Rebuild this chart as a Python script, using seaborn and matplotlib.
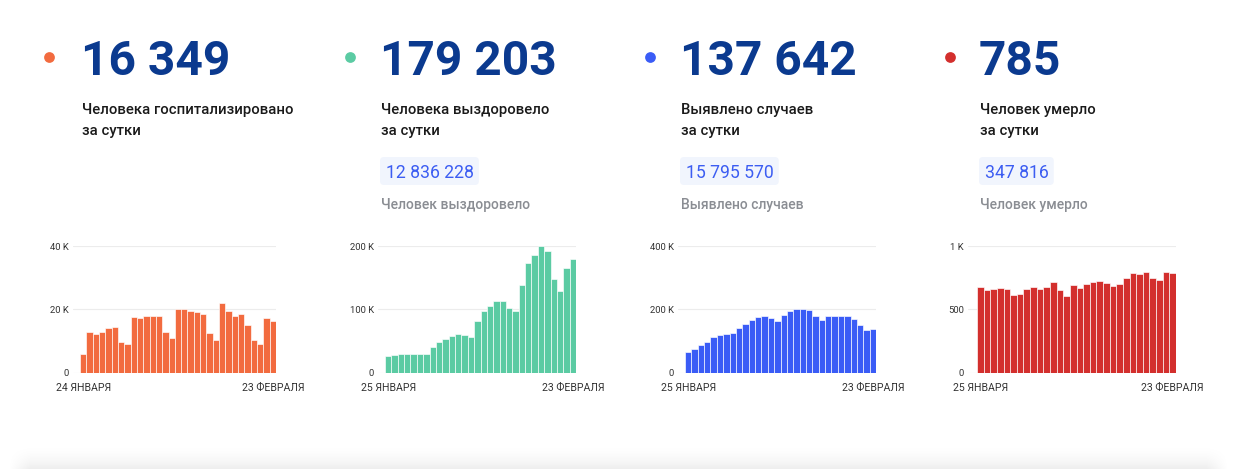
import numpy as np
import pandas as pd
import matplotlib
matplotlib.use("Agg")
import matplotlib.pyplot as plt
from matplotlib.patches import FancyBboxPatch
import seaborn as sns

# ---------------- data ----------------
hosp = [6.0, 12.8, 12.2, 12.8, 14.1, 14.6, 9.9, 9.2, 17.5, 17.2, 17.8, 17.8, 18.0,
        12.8, 10.9, 20.2, 20.2, 19.6, 19.3, 18.5, 12.7, 10.5, 21.9, 19.6, 18.1,
        18.6, 15.1, 10.5, 9.0, 17.4, 16.349]           # thousands
recovered = [27.4, 28.9, 30.5, 30.5, 30.5, 29.5, 30.5, 41, 49, 54, 59, 61, 60, 56,
             82, 98, 106, 113, 114, 102, 98, 139, 174, 186, 200, 192, 148, 129,
             165, 179.203]                              # thousands
cases = [67.7, 76, 88.5, 98, 112.5, 121, 124, 126, 141.7, 155, 168, 176, 179, 172,
         164.6, 182, 196, 203, 203, 197, 179, 166.7, 178, 180, 179, 178, 170, 151,
         135.4, 137.642]                                # thousands
deaths = [677, 654, 664, 672, 664, 615, 620, 659, 674, 664, 680, 714, 656, 607,
          695, 667, 698, 719, 727, 706, 682, 703, 745, 786, 781, 794, 745, 732,
          792, 785]

big_numbers = ["16 349", "179 203", "137 642", "785"]
labels_1 = ["Человека госпитализировано", "Человека выздоровело",
            "Выявлено случаев", "Человек умерло"]
labels_2 = ["за сутки", "за сутки", "за сутки", "за сутки"]
totals = [None, "12 836 228", "15 795 570", "347 816"]
total_labels = [None, "Человек выздоровело", "Выявлено случаев", "Человек умерло"]
start_dates = ["24 ЯНВАРЯ", "25 ЯНВАРЯ", "25 ЯНВАРЯ", "25 ЯНВАРЯ"]
end_dates = ["23 ФЕВРАЛЯ", "23 ФЕВРАЛЯ", "23 ФЕВРАЛЯ", "23 ФЕВРАЛЯ"]
y_ticks = [[0, 20, 40], [0, 100, 200], [0, 200, 400], [0, 500, 1000]]
y_ticklabels = [["0", "20 K", "40 K"], ["0", "100 K", "200 K"],
                ["0", "200 K", "400 K"], ["0", "500", "1 K"]]
series = [hosp, recovered, cases, deaths]

colors = ["#F26B3F", "#5BCBA3", "#3A5CF6", "#D32F2D"]
NAVY = "#0B3A8F"
BOXBG = "#F1F5FD"
BOXTX = "#3C5DF2"
GRAY = "#8A8D93"

# ---------------- layout (pixels) ----------------
W, H = 1237, 469
card_x = [82, 381, 681, 980]
dot_x = [49, 350, 650, 950]
grid_left = [73, 378, 678, 968]
bars_left = [80, 385, 685, 977]
bars_right = [276, 576, 876, 1176]
ax_top, ax_bot = 246, 373

sns.set_theme(style="white")
plt.rcParams["font.family"] = ["Roboto", "DejaVu Sans"]

fig = plt.figure(figsize=(W / 100, H / 100), dpi=100)
fig.patch.set_facecolor("white")

# overlay axes in pixel coordinates for the text / decorations
ov = fig.add_axes([0, 0, 1, 1])
ov.set_xlim(0, W)
ov.set_ylim(H, 0)
ov.axis("off")

# bottom soft shadow
shadow_h = 28
yy = np.linspace(0, 1, shadow_h)[:, None]
xx = np.linspace(0, W, W)[None, :]
edge = np.clip(np.minimum(xx - 8, W - 8 - xx) / 22, 0, 1)
alpha = (yy ** 2) * 0.07 * edge
rgba = np.zeros((shadow_h, W, 4))
rgba[..., 3] = alpha
ov.imshow(rgba, extent=(0, W, H, H - shadow_h), aspect="auto", zorder=0)

for i in range(4):
    ov.scatter([dot_x[i]], [57], s=60, color=colors[i], zorder=3, linewidths=0)
    ov.text(card_x[i] - 1, 75, big_numbers[i], color=NAVY, fontsize=34.5,
            fontweight="bold", ha="left", va="baseline")
    ov.text(card_x[i], 114, labels_1[i], color="#1A1A1A", fontsize=10.7,
            fontweight="medium", ha="left", va="baseline")
    ov.text(card_x[i], 135, labels_2[i], color="#1A1A1A", fontsize=10.7,
            fontweight="medium", ha="left", va="baseline")
    if totals[i] is not None:
        t = ov.text(card_x[i] + 5, 178, totals[i], color=BOXTX, fontsize=12.7,
                    ha="left", va="baseline", zorder=3)
        fig.canvas.draw()
        tw = t.get_window_extent().width
        box = FancyBboxPatch((card_x[i] - 1, 157), tw + 11, 28,
                             boxstyle="round,pad=0,rounding_size=4",
                             facecolor=BOXBG, edgecolor="none", zorder=2)
        ov.add_patch(box)
        ov.text(card_x[i], 209, total_labels[i], color=GRAY, fontsize=10.0,
                fontweight="medium", ha="left", va="baseline")

# ---------------- bar charts ----------------
for i in range(4):
    vals = series[i]
    n = len(vals)
    left = grid_left[i] / W
    right = bars_right[i] / W
    bottom = 1 - ax_bot / H
    top = 1 - ax_top / H
    ax = fig.add_axes([left, bottom, right - left, top - bottom])
    ax.patch.set_alpha(0)
    df = pd.DataFrame({"day": np.arange(n), "value": vals})
    sns.barplot(data=df, x="day", y="value", color=colors[i], saturation=1,
                width=1.0, edgecolor="white", linewidth=0.45, ax=ax, zorder=2)
    slot = (bars_right[i] - bars_left[i]) / n
    pad = (bars_left[i] - grid_left[i]) / slot
    ax.set_xlim(-0.5 - pad, n - 0.5)
    ax.set_ylim(0, y_ticks[i][-1])
    ax.set_yticks(y_ticks[i])
    ax.set_yticklabels(y_ticklabels[i])
    ax.set_xticks([0, n - 1])
    ax.set_xticklabels([start_dates[i], end_dates[i]])
    ax.set_xlabel("")
    ax.set_ylabel("")
    ax.grid(axis="y", color="#ECECEC", linewidth=0.8, zorder=0)
    ax.grid(axis="x", visible=False)
    for s in ax.spines.values():
        s.set_visible(False)
    ax.tick_params(axis="y", length=0, pad=3, labelsize=6.8, labelcolor="#333333")
    ax.tick_params(axis="x", length=0, pad=7, labelsize=7.6, labelcolor="#333333")
    ax.set_axisbelow(True)

fig.savefig("out.png", dpi=100, facecolor="white")
